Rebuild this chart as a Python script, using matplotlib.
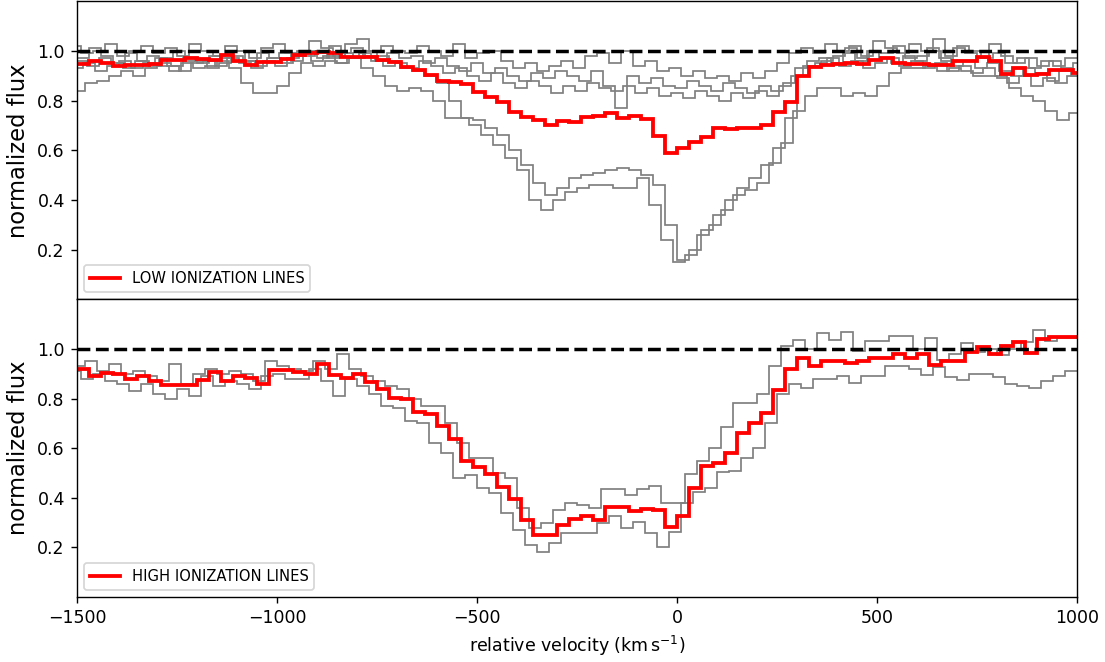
import numpy as np
import matplotlib
matplotlib.use('Agg')
import matplotlib.pyplot as plt

# velocity bins (km/s)
v_start = -1500
bin_width = 30

# ---- low ionization panel ----
low_mean = [0.949, 0.958, 0.95, 0.94, 0.942, 0.945, 0.948, 0.962, 0.965, 0.97,
            0.968, 0.962, 0.985, 0.96, 0.942, 0.955, 0.955, 0.968, 0.982, 0.99,
            0.995, 0.993, 0.975, 0.975, 0.975, 0.965, 0.955, 0.936, 0.925, 0.902,
            0.88, 0.876, 0.866, 0.835, 0.815, 0.795, 0.755, 0.735, 0.722, 0.70,
            0.718, 0.712, 0.735, 0.737, 0.752, 0.73, 0.74, 0.725, 0.658, 0.588,
            0.61, 0.635, 0.655, 0.688, 0.685, 0.69, 0.69, 0.70, 0.755, 0.795,
            0.90, 0.935, 0.945, 0.948, 0.95, 0.948, 0.963, 0.972, 0.95, 0.949,
            0.948, 0.945, 0.942, 0.958, 0.958, 0.976, 0.958, 0.909, 0.93, 0.905,
            0.909, 0.922, 0.922, 0.91]

low_d1 = [0.97, 1.01, 0.98, 0.95, 0.99, 0.96, 0.94, 0.97, 1.0, 0.96,
          0.95, 0.98, 0.97, 1.0, 0.96, 0.99, 0.97, 0.95, 0.98, 1.0,
          0.97, 1.02, 0.99, 0.97, 1.0, 0.98, 0.96, 0.93, 0.92, 0.9,
          0.87, 0.8, 0.73, 0.72, 0.69, 0.66, 0.6, 0.54, 0.47, 0.42,
          0.45, 0.49, 0.5, 0.51, 0.52, 0.53, 0.52, 0.5, 0.46, 0.3,
          0.16, 0.2, 0.28, 0.34, 0.4, 0.45, 0.49, 0.54, 0.61, 0.73,
          0.9, 0.94, 0.96, 0.98, 1.01, 0.97, 1.0, 0.99, 1.02, 0.97,
          0.98, 1.0, 0.96, 1.01, 0.99, 0.97, 1.03, 0.98, 0.95, 0.97,
          0.94, 0.96, 0.93, 0.95]

low_d2 = [0.84, 0.87, 0.88, 0.9, 0.92, 0.9, 0.93, 0.94, 0.92, 0.95,
          0.93, 0.94, 0.96, 0.93, 0.87, 0.83, 0.83, 0.86, 0.91, 0.95,
          0.94, 0.96, 0.95, 0.97, 0.93, 0.9, 0.86, 0.84, 0.85, 0.84,
          0.8, 0.73, 0.73, 0.7, 0.66, 0.62, 0.57, 0.52, 0.4, 0.36,
          0.4, 0.43, 0.45, 0.46, 0.46, 0.45, 0.45, 0.49, 0.38, 0.24,
          0.15, 0.18, 0.26, 0.3, 0.36, 0.42, 0.44, 0.47, 0.55, 0.63,
          0.76, 0.82, 0.85, 0.85, 0.82, 0.83, 0.82, 0.86, 0.91, 0.93,
          0.93, 0.94, 0.92, 0.93, 0.92, 0.9, 0.9, 0.89, 0.85, 0.82,
          0.8, 0.76, 0.72, 0.75]

low_s1 = [1.02, 0.99, 1.0, 1.03, 0.98, 1.0, 1.02, 0.99, 1.01, 0.98,
          1.03, 1.0, 0.98, 1.02, 1.0, 0.97, 1.01, 1.03, 0.99, 1.0,
          1.04, 1.01, 0.98, 1.03, 1.05, 1.0, 1.02, 1.0, 0.99, 1.02,
          1.0, 0.98, 1.03, 0.97, 0.99, 1.0, 0.96, 0.93, 0.95, 0.92,
          0.94, 0.96, 0.93, 0.98, 0.99, 0.95, 1.0, 0.94, 0.96, 0.92,
          0.93, 0.9, 0.92, 0.89, 0.9, 0.88, 0.91, 0.89, 0.92, 0.95,
          0.99, 1.01, 0.99, 1.03, 1.0, 1.02, 0.98, 1.04, 1.01, 0.99,
          1.03, 1.0, 1.05, 0.98, 1.02, 1.0, 0.97, 0.99, 0.95, 0.97,
          0.93, 0.96, 0.94, 0.97]

low_s2 = [0.96, 0.94, 0.97, 0.95, 0.93, 0.96, 0.98, 0.95, 0.94, 0.97,
          0.96, 0.93, 0.95, 0.98, 0.96, 0.94, 0.97, 0.99, 0.96, 0.98,
          1.0, 0.97, 0.99, 1.01, 0.98, 0.96, 0.99, 0.97, 0.98, 0.95,
          0.97, 0.94, 0.92, 0.95, 0.91, 0.93, 0.9, 0.88, 0.91, 0.89,
          0.92, 0.9, 0.88, 0.92, 0.86, 0.77, 0.9, 0.87, 0.89, 0.86,
          0.85, 0.88, 0.86, 0.84, 0.87, 0.85, 0.83, 0.86, 0.84, 0.87,
          0.93, 0.96, 0.97, 0.95, 0.99, 0.96, 1.0, 0.97, 0.95, 0.98,
          0.96, 1.01, 0.97, 0.94, 0.96, 0.93, 0.95, 0.92, 0.9, 0.93,
          0.91, 0.88, 0.92, 0.9]

low_s3 = [0.93, 0.95, 0.92, 0.94, 0.96, 0.93, 0.95, 0.97, 0.94, 0.92,
          0.95, 0.96, 0.94, 0.97, 0.95, 0.93, 0.96, 0.94, 0.97, 0.99,
          0.96, 0.98, 0.95, 0.97, 0.99, 0.96, 0.94, 0.95, 0.93, 0.96,
          0.94, 0.91, 0.93, 0.9, 0.88, 0.91, 0.87, 0.85, 0.88, 0.86,
          0.83, 0.86, 0.84, 0.87, 0.85, 0.84, 0.86, 0.83, 0.85, 0.82,
          0.83, 0.81, 0.84, 0.82, 0.8, 0.83, 0.81, 0.84, 0.82, 0.86,
          0.9, 0.94, 0.95, 0.97, 0.94, 0.96, 0.93, 0.95, 0.97, 0.94,
          0.96, 0.93, 0.95, 0.92, 0.94, 0.91, 0.93, 0.9, 0.87, 0.9,
          0.86, 0.89, 0.87, 0.9]

# ---- high ionization panel ----
high_mean = [0.92, 0.891, 0.902, 0.898, 0.878, 0.891, 0.871, 0.854, 0.854, 0.854,
             0.876, 0.905, 0.871, 0.891, 0.884, 0.858, 0.916, 0.916, 0.907, 0.898,
             0.938, 0.894, 0.884, 0.898, 0.867, 0.838, 0.804, 0.797, 0.747, 0.737,
             0.69, 0.637, 0.55, 0.523, 0.497, 0.443, 0.396, 0.309, 0.249, 0.249,
             0.289, 0.316, 0.327, 0.31, 0.363, 0.363, 0.345, 0.356, 0.352, 0.284,
             0.328, 0.441, 0.53, 0.541, 0.582, 0.662, 0.70, 0.742, 0.833, 0.919,
             0.963, 0.929, 0.953, 0.953, 0.942, 0.953, 0.964, 0.964, 0.98, 0.963,
             0.98, 0.937, 0.953, 0.953, 0.987, 1.008, 0.978, 1.011, 1.028, 0.983,
             1.039, 1.049, 1.049, 1.049]

high_b1 = [0.93, 0.95, 0.91, 0.94, 0.9, 0.91, 0.89, 0.87, 0.94, 0.86,
           0.9, 0.92, 0.9, 0.91, 0.9, 0.87, 0.95, 0.93, 0.92, 0.91,
           0.95, 0.92, 0.98, 0.92, 0.89, 0.87, 0.85, 0.84, 0.8, 0.77,
           0.77, 0.7, 0.62, 0.56, 0.56, 0.5, 0.48, 0.36, 0.28, 0.3,
           0.35, 0.379, 0.37, 0.36, 0.434, 0.434, 0.41, 0.434, 0.448, 0.38,
           0.38, 0.496, 0.55, 0.6, 0.687, 0.783, 0.783, 0.817, 0.933, 1.011,
           1.035, 1.0, 1.063, 1.035, 1.066, 0.99, 1.03, 1.03, 1.05, 1.05,
           1.0, 1.042, 0.955, 0.98, 1.022, 0.988, 1.0, 0.974, 1.0, 1.029,
           1.077, 1.03, 1.042, 1.042]

high_b2 = [0.91, 0.88, 0.9, 0.87, 0.86, 0.83, 0.86, 0.82, 0.8, 0.84,
           0.81, 0.89, 0.85, 0.87, 0.86, 0.84, 0.89, 0.9, 0.88, 0.88,
           0.92, 0.87, 0.81, 0.88, 0.85, 0.82, 0.77, 0.76, 0.71, 0.7,
           0.62, 0.58, 0.48, 0.49, 0.44, 0.42, 0.34, 0.27, 0.21, 0.18,
           0.22, 0.26, 0.257, 0.257, 0.298, 0.325, 0.28, 0.304, 0.257, 0.202,
           0.264, 0.38, 0.425, 0.441, 0.503, 0.51, 0.56, 0.6, 0.7, 0.817,
           0.86, 0.844, 0.878, 0.878, 0.892, 0.864, 0.892, 0.892, 0.933, 0.933,
           0.919, 0.895, 0.926, 0.885, 0.875, 0.899, 0.899, 0.885, 0.86, 0.851,
           0.844, 0.87, 0.89, 0.912]

# bin start offsets of the individual transitions (km/s)
low_offsets = [0, -10, -20, -5, -15]
high_offsets = [-10, -20]


def edges(values, offset=0):
    return v_start + offset + bin_width * np.arange(len(values) + 1)


fig, (ax1, ax2) = plt.subplots(2, 1, sharex=True, figsize=(8.84, 5.296), dpi=125)

for vals, off in zip([low_d1, low_d2, low_s1, low_s2, low_s3], low_offsets):
    ax1.stairs(vals, edges(vals, off), baseline=None, color='gray', lw=1.0)
ax1.stairs(low_mean, edges(low_mean), baseline=None, color='red', lw=2.2,
           label='LOW IONIZATION LINES')

for vals, off in zip([high_b1, high_b2], high_offsets):
    ax2.stairs(vals, edges(vals, off), baseline=None, color='gray', lw=1.0)
ax2.stairs(high_mean, edges(high_mean), baseline=None, color='red', lw=2.2,
           label='HIGH IONIZATION LINES')

for ax in (ax1, ax2):
    ax.axhline(1.0, color='black', ls='--', lw=2)
    ax.set_ylim(0, 1.2)
    ax.set_yticks([0.2, 0.4, 0.6, 0.8, 1.0])
    ax.set_ylabel('normalized flux', fontsize=13)
    ax.legend(loc='lower left', fontsize=8.5, handlelength=2.0)

ax2.set_xlim(-1500, 1000)
ax2.set_xlabel(r'relative velocity ($\mathrm{km\,s^{-1}}$)')
ax1.tick_params(axis='x', length=0)

plt.subplots_adjust(left=0.0697, right=0.9747, bottom=0.098, top=0.998, hspace=0)
plt.savefig('out.png')
